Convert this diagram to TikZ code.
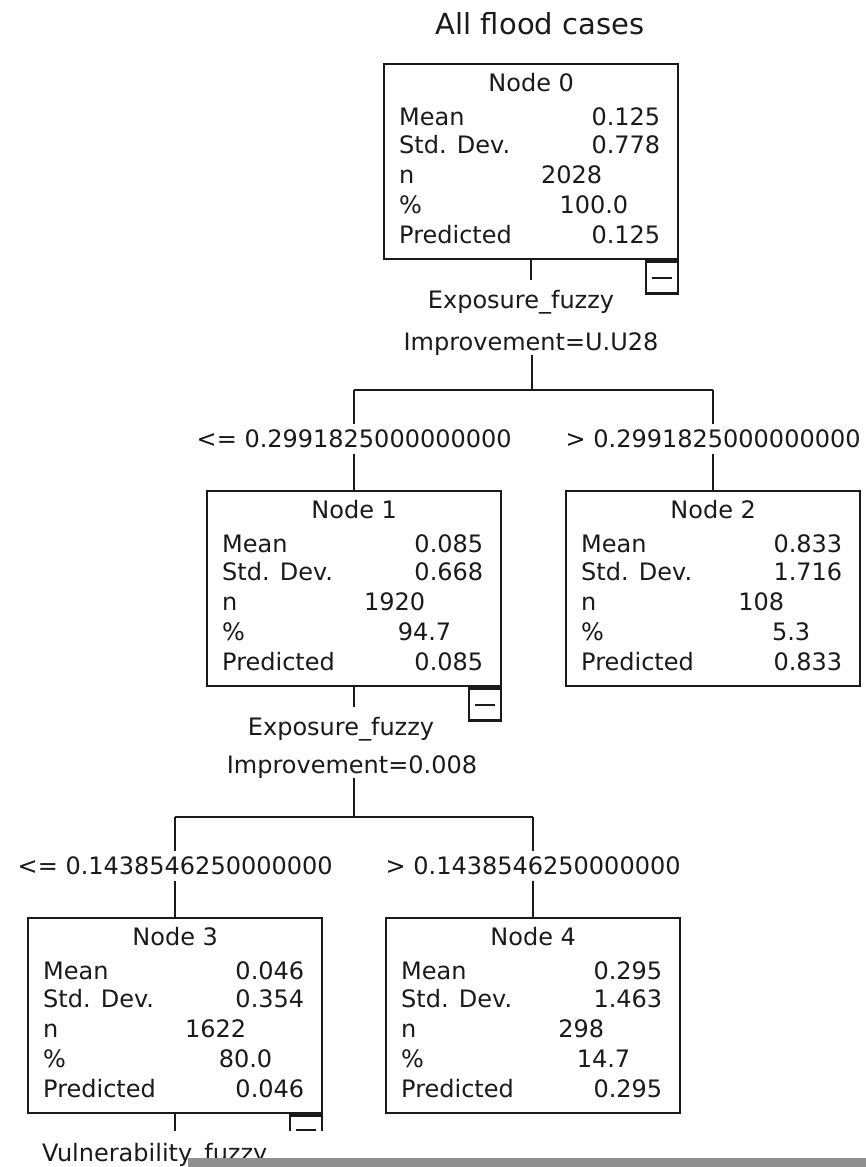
\documentclass[tikz,border=0pt]{standalone}
\usepackage{fontspec}
\setmainfont{DejaVu Sans}
\usepackage{tikz}
\usetikzlibrary{positioning, calc}
\definecolor{ink}{HTML}{1a1a1a}
\definecolor{scanbar}{HTML}{8f8f8f}

\begin{document}
\begin{tikzpicture}[x=1pt, y=-1pt,
    every node/.style={font=\fontsize{24}{26}\selectfont, text=ink, inner sep=0pt, text height=17pt, text depth=0pt},
    statbox/.style={draw=ink, line width=2.4pt, anchor=north west, minimum width=294pt, minimum height=195pt},
    minusbox/.style={draw=ink, line width=2.4pt, anchor=north east, minimum width=32pt, minimum height=32pt},
    link/.style={draw=ink, line width=2.4pt},
    cutlabel/.style={inner xsep=2pt, inner ysep=6pt}]
  \useasboundingbox (0,0) rectangle (866,1167);

  \node[font=\fontsize{29}{32}\selectfont, text height=21pt] (title) at (540,24) {All flood cases};

  % Tree nodes
  \foreach \nm/\x/\y/\mean/\sdev/\cnt/\pct/\pred in {
    0/383/63/0.125/0.778/2028/100.0/0.125,
    1/206/490/0.085/0.668/1920/94.7/0.085,
    2/565/490/0.833/1.716/108/5.3/0.833,
    3/27/917/0.046/0.354/1622/80.0/0.046,
    4/385/917/0.295/1.463/298/14.7/0.295
  }{
    \node[statbox] (n\nm) at (\x,\y) {};
    \node (n\nm-head) at ($(n\nm.north)+(0,20)$) {Node \nm};
    \foreach \key/\dy/\lab/\val/\dx in {mean/54/Mean/\mean/19, sd/82/Std. Dev./\sdev/19,
        n/112/n/\cnt/77, pct/142/\%/\pct/51, pred/172/Predicted/\pred/19}{
      \node[anchor=west] (n\nm-\key) at ($(n\nm.north west)+(16,\dy)$) {\lab};
      \node[anchor=east] (n\nm-\key-v) at ($(n\nm.north east)+(-\dx,\dy)$) {\val};
    }
  }

  % Collapse boxes and stubs
  \foreach \nm in {0,1}{
    \node[minusbox] (m\nm) at (n\nm.south east) {};
    \draw[ink, line width=1.8pt] ($(m\nm.center)+(-10,0)$) -- ($(m\nm.center)+(10,0)$);
    \coordinate (t\nm) at ($(n\nm.south)+(0,20)$);
    \draw[link] (n\nm.south) -- (t\nm);
  }
  \begin{scope}
    \clip (0,1100) rectangle (866,1130);
    \node[minusbox] (m3) at (n3.south east) {};
    \draw[ink, line width=1.8pt] ($(m3.center)+(-10,-2)$) -- ($(m3.center)+(10,-2)$);
    \coordinate (t3) at ($(n3.south)+(0,20)$);
    \draw[link] (n3.south) -- (t3);
  \end{scope}

  % Split of node 0
  \node (var0) at (521,300) {Exposure\_fuzzy};
  \node[inner ysep=4pt] (imp0) at (531,342) {Improvement=U.U28};
  \coordinate (s0) at (532,390);
  \node[cutlabel] (b1) at (n1.north |- 0,439) {<= 0.2991825000000000};
  \node[cutlabel] (b2) at (n2.north |- 0,439) {> 0.2991825000000000};
  \draw[link] (imp0.south -| s0) -- (s0);
  \draw[link] (n1.north |- s0) -- (n2.north |- s0);
  \draw[link] (n1.north |- s0) -- (b1.north);
  \draw[link] (b1.south) -- (n1.north);
  \draw[link] (n2.north |- s0) -- (b2.north);
  \draw[link] (b2.south) -- (n2.north);

  % Split of node 1
  \node (var1) at (341,727) {Exposure\_fuzzy};
  \node[inner ysep=4pt] (imp1) at (352,765) {Improvement=0.008};
  \coordinate (s1) at (n1.south |- 0,817);
  \node[cutlabel] (b3) at (n3.north |- 0,866) {<= 0.1438546250000000};
  \node[cutlabel] (b4) at (n4.north |- 0,866) {> 0.1438546250000000};
  \draw[link] (imp1.south -| s1) -- (s1);
  \draw[link] (n3.north |- s1) -- (n4.north |- s1);
  \draw[link] (n3.north |- s1) -- (b3.north);
  \draw[link] (b3.south) -- (n3.north);
  \draw[link] (n4.north |- s1) -- (b4.north);
  \draw[link] (b4.south) -- (n4.north);

  % Split of node 3 (cut off)
  \node[anchor=west] (var3) at (42,1153) {Vulnerability\_fuzzy};
  \fill[scanbar] (188,1158) rectangle (866,1167);
\end{tikzpicture}
\end{document}
